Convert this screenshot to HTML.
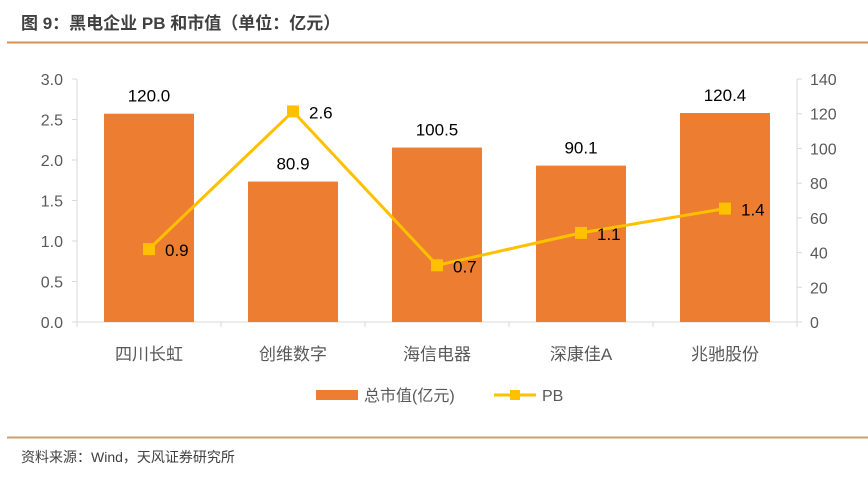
<!DOCTYPE html>
<html><head><meta charset="utf-8"><style>
body{margin:0;width:868px;height:473px;background:#fff;overflow:hidden;font-family:"Liberation Sans","Noto Sans CJK SC",sans-serif}
</style></head><body>
<svg width="868" height="473" style="font-family:'Liberation Sans','Noto Sans CJK SC',sans-serif">
<text x="21" y="29" font-size="17" font-weight="bold" fill="#404040">图 9：黑电企业 PB 和市值（单位：亿元）</text>
<line x1="7" y1="42.5" x2="868" y2="42.5" stroke="#D9904E" stroke-width="2"/>
<g id="plot"></g>
<g>
<rect x="316" y="390" width="42" height="10" fill="#ED7D31"/>
<text x="364" y="401" font-size="16" fill="#595959">总市值(亿元)</text>
<line x1="494" y1="395" x2="536" y2="395" stroke="#FFC000" stroke-width="3"/>
<rect x="510" y="390" width="10" height="10" fill="#FFC000"/>
<text x="542" y="401" font-size="16" fill="#595959">PB</text>
</g>
<line x1="7" y1="437.5" x2="868" y2="437.5" stroke="#C9A070" stroke-width="2"/>
<text x="21" y="462" font-size="14" fill="#404040">资料来源：Wind，天风证券研究所</text>
</svg>
<script>
const categories=["四川长虹","创维数字","海信电器","深康佳A","兆驰股份"];
const marketCap=[120.0,80.9,100.5,90.1,120.4];
const pbValues=[0.9,2.6,0.7,1.1,1.4];
const leftTicks=["0.0","0.5","1.0","1.5","2.0","2.5","3.0"];
const rightTicks=["0","20","40","60","80","100","120","140"];
const NS="http://www.w3.org/2000/svg";
const g=document.getElementById('plot');
const X0=77,X1=797,Y0=322,Y1=79;
const yL=v=>Y0-(v/3)*(Y0-Y1);
const yR=v=>Y0-(v/140)*(Y0-Y1);
const band=(X1-X0)/categories.length;
const xc=i=>X0+band*(i+0.5);
function mk(t,a){const e=document.createElementNS(NS,t);for(const k in a)e.setAttribute(k,a[k]);g.appendChild(e);return e;}
function txt(x,y,s,anchor,size,fill){const e=mk('text',{x:x,y:y,'text-anchor':anchor,'font-size':size,fill:fill});e.textContent=s;return e;}
let e;
e=mk('line',{x1:X0,y1:Y1,x2:X0,y2:Y0,stroke:'#D9D9D9'});


e=mk('line',{x1:X1,y1:Y1,x2:X1,y2:Y0,stroke:'#D9D9D9'});


e=mk('line',{x1:X0-5,y1:Y0,x2:X1,y2:Y0,stroke:'#D9D9D9'});


leftTicks.forEach((t,i)=>{const v=parseFloat(t);
 e=mk('line',{x1:X0-5,y1:yL(v),x2:X0,y2:yL(v),stroke:'#D9D9D9'});
 
 
 e=txt(X0-14,yL(v)+6,t,'end',16,'#595959');
 
 });
rightTicks.forEach((t,i)=>{const v=parseFloat(t);
 e=mk('line',{x1:X1,y1:yR(v),x2:X1+5,y2:yR(v),stroke:'#D9D9D9'});
 
 
 e=txt(X1+13,yR(v)+6,t,'start',16,'#595959');
 
 });
for(let i=0;i<=categories.length;i++){
 e=mk('line',{x1:X0+band*i,y1:Y0,x2:X0+band*i,y2:Y0+5,stroke:'#D9D9D9'});
 
 }
categories.forEach((c,i)=>{
 const bw=90;
 e=mk('rect',{x:xc(i)-bw/2,y:yR(marketCap[i]),width:bw,height:Y0-yR(marketCap[i]),fill:'#ED7D31'});
 
 
 e=txt(xc(i),yR(marketCap[i])-12,marketCap[i].toFixed(1),'middle',17,'#000');
 
 
 e=txt(xc(i),Y0+38,c,'middle',17,'#595959');
 
 
});
e=mk('polyline',{points:pbValues.map((v,i)=>xc(i)+','+yL(v)).join(' '),fill:'none',stroke:'#FFC000','stroke-width':3});


pbValues.forEach((v,i)=>{
 e=mk('rect',{x:xc(i)-6,y:yL(v)-6,width:12,height:12,fill:'#FFC000'});
 
 
 e=txt(xc(i)+16,yL(v)+7,v.toFixed(1),'start',17,'#000');
 
 
});
</script>
</body></html>
